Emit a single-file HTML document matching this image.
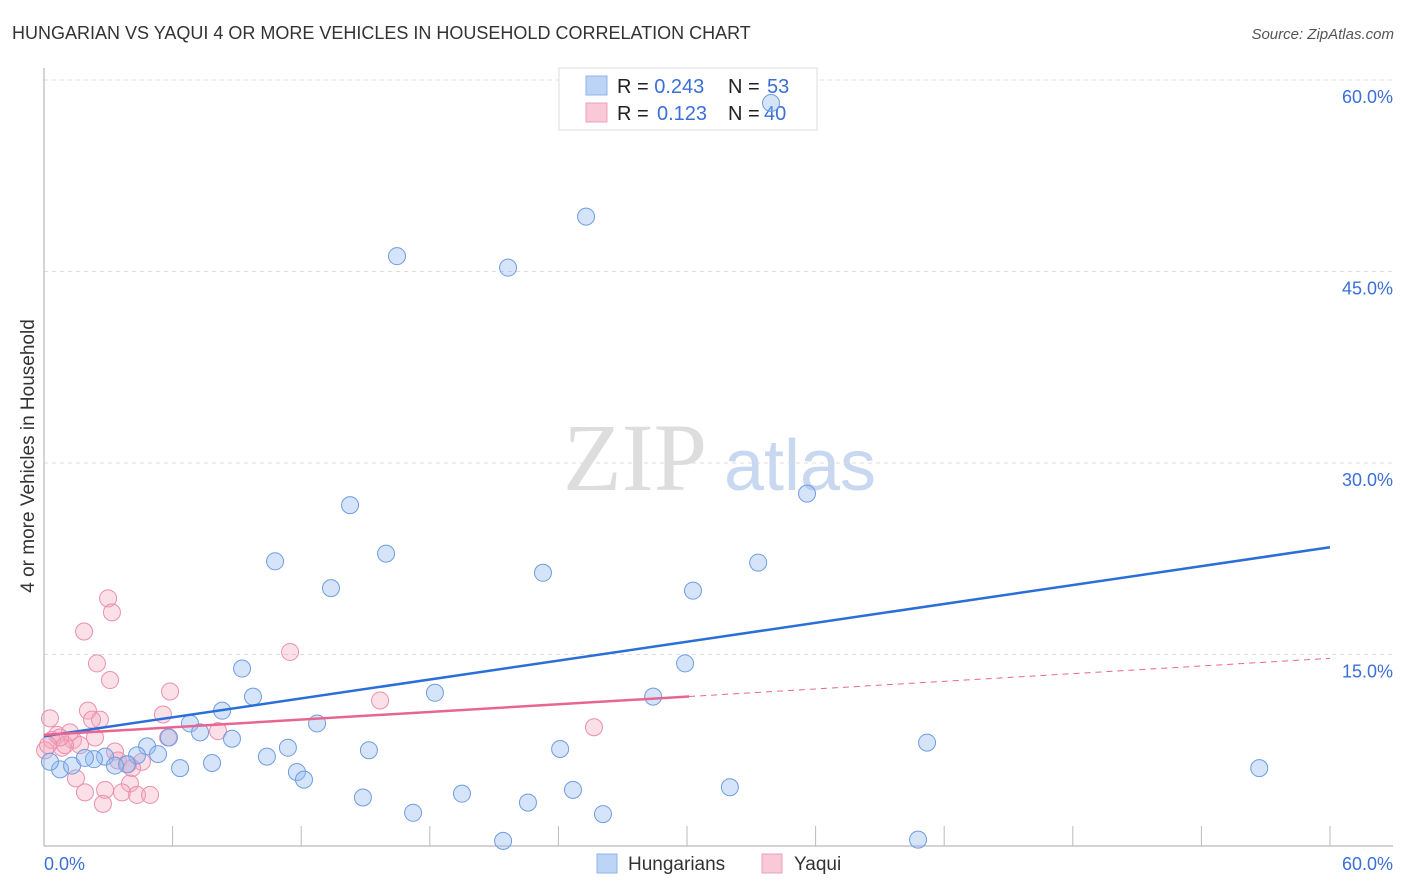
<!DOCTYPE html>
<html><head><meta charset="utf-8"><style>
body{margin:0;background:#fff;font-family:"Liberation Sans",sans-serif}
svg{display:block}
</style></head><body>
<svg id="c" width="1406" height="892">
<text x="12" y="39" font-size="18" fill="#333">HUNGARIAN VS YAQUI 4 OR MORE VEHICLES IN HOUSEHOLD CORRELATION CHART</text>
<text x="1394" y="39" font-size="15" fill="#555" font-style="italic" text-anchor="end">Source: ZipAtlas.com</text>
<text x="0" y="0" transform="translate(34,456) rotate(-90)" font-size="19" fill="#333" text-anchor="middle">4 or more Vehicles in Household</text>
<g><text x="635" y="490" font-size="96" fill="#ddd" font-family="Liberation Serif,serif" text-anchor="middle">ZIP</text><text x="800" y="490" font-size="72" fill="#c8d8f0" text-anchor="middle">atlas</text></g>
<g id="grid"></g>
<g>
<rect x="559" y="68" width="258" height="62" fill="#fff" stroke="#ddd"/>
<rect x="586" y="76" width="21" height="19" fill="#bcd4f6" stroke="#8fb3e8"/>
<rect x="586" y="103" width="21" height="19" fill="#f9c9d7" stroke="#eca0b9"/>
<text x="617" y="93" font-size="20" fill="#222">R = <tspan fill="#3a6fd8">0.243</tspan><tspan x="728">N = </tspan><tspan x="767" fill="#3a6fd8">53</tspan></text>
<text x="617" y="120" font-size="20" fill="#222">R = <tspan x="657" fill="#3a6fd8">0.123</tspan><tspan x="728">N = </tspan><tspan x="764" fill="#3a6fd8">40</tspan></text>
</g>
<g id="pts"></g><g id="lines"></g>
<g>
<rect x="597" y="854" width="20" height="19" fill="#bcd4f6" stroke="#8fb3e8"/>
<text x="628" y="870" font-size="19" fill="#333">Hungarians</text>
<rect x="762" y="854" width="20" height="19" fill="#f9c9d7" stroke="#eca0b9"/>
<text x="794" y="870" font-size="19" fill="#333">Yaqui</text>
</g>
</svg>
<script>
const yTicks=[15,30,45,60];
const xTickLabels=["0.0%","60.0%"];
const blueX=[16.47,21.65,25.29,33.92,14.28,35.6,10.78,15.96,13.39,23.28,33.32,30.28,29.91,9.24,9.75,18.24,28.42,8.31,6.81,12.74,7.28,5.83,8.77,41.2,4.81,11.38,15.16,24.08,4.34,5.32,2.85,2.33,10.4,3.87,7.84,6.35,11.8,12.13,0.75,1.31,56.7,32.0,24.68,19.5,14.88,22.58,17.22,26.08,21.42,40.78,0.28,3.31,1.91];
const blueY=[46.2,45.3,49.3,58.2,26.7,27.6,22.3,22.9,20.2,21.4,22.2,20.0,14.3,13.9,11.7,12.0,11.7,10.6,9.6,9.6,8.9,8.5,8.4,8.1,7.8,7.7,7.5,7.6,7.1,7.2,7.0,6.8,7.0,6.4,6.5,6.1,5.8,5.2,6.0,6.3,6.1,4.6,4.4,4.1,3.8,3.4,2.6,2.5,0.4,0.5,6.6,6.3,6.9];
const pinkX=[2.99,3.17,1.87,2.47,3.08,11.48,5.88,15.68,2.05,5.55,0.28,2.61,2.24,25.66,8.12,5.79,0.61,1.35,2.38,1.68,3.31,0.84,3.45,4.57,3.92,4.11,1.49,4.01,2.85,1.91,3.64,4.34,4.95,2.75,0.37,0.98,0.05,1.21,0.75,0.19];
const pinkY=[19.4,18.3,16.8,14.3,13.0,15.2,12.1,11.4,10.6,10.3,10.0,9.9,9.9,9.3,9.0,8.5,8.7,8.3,8.5,7.9,7.4,7.7,6.7,6.6,6.4,6.1,5.3,4.9,4.4,4.2,4.2,4.0,4.0,3.3,8.3,7.9,7.5,8.9,8.5,7.9];
const blueFit=[8.6,23.4];
const pinkFit=[8.7,14.7];
const pinkSolidEnd=30.1;
const X=v=>44+v/60*1286, Y=v=>846-v/15*191.5;
const NS="http://www.w3.org/2000/svg";
function mk(t,a,p){const e=document.createElementNS(NS,t);for(const k in a)e.setAttribute(k,a[k]);p.appendChild(e);return e;}
const g=document.getElementById('grid');
yTicks.forEach(t=>{
 const l=mk('line',{x1:44,x2:1393,y1:Y(t),y2:Y(t),stroke:'#ddd','stroke-dasharray':'4,4'},g);
 
 
 const tx=mk('text',{x:1393,y:Y(t)+23,'font-size':18,fill:'#3a6fd8','text-anchor':'end'},g);tx.textContent=t.toFixed(1)+'%';
 
 
});
mk('line',{x1:44,x2:44,y1:68,y2:846,stroke:'#aaa'},g);
const ax=mk('line',{x1:44,x2:1393,y1:846,y2:846,stroke:'#aaa'},g);


for(let i=1;i<=10;i++){mk('line',{x1:X(i*6),x2:X(i*6),y1:826,y2:846,stroke:'#bbb'},g);}
[[0,44,'start'],[60,1393,'end']].forEach((d,i)=>{const t=mk('text',{x:d[1],y:870,'font-size':18,fill:'#3a6fd8','text-anchor':d[2]},g);t.textContent=xTickLabels[i];
 
 });
const P=document.getElementById('pts');
pinkX.forEach((x,i)=>{const c=mk('circle',{cx:X(x),cy:Y(pinkY[i]),r:8.5,fill:'rgba(244,165,190,0.35)',stroke:'#eb8fae','stroke-width':1},P);
 
 });
blueX.forEach((x,i)=>{const c=mk('circle',{cx:X(x),cy:Y(blueY[i]),r:8.5,fill:'rgba(150,188,240,0.4)',stroke:'#6e9de2','stroke-width':1},P);
 
 });
const L=document.getElementById('lines');
const fy=(f,x)=>f[0]+(f[1]-f[0])*x/60;
const bl=mk('line',{x1:X(0),y1:Y(blueFit[0]),x2:X(60),y2:Y(blueFit[1]),stroke:'#2a6ed8','stroke-width':2.5},L);


const pl=mk('line',{x1:X(0),y1:Y(pinkFit[0]),x2:X(pinkSolidEnd),y2:Y(fy(pinkFit,pinkSolidEnd)),stroke:'#e86592','stroke-width':2.5},L);


const pd=mk('line',{x1:X(pinkSolidEnd),y1:Y(fy(pinkFit,pinkSolidEnd)),x2:X(60),y2:Y(pinkFit[1]),stroke:'#e86592','stroke-width':1,'stroke-dasharray':'6,5'},L);


</script>
</body></html>
